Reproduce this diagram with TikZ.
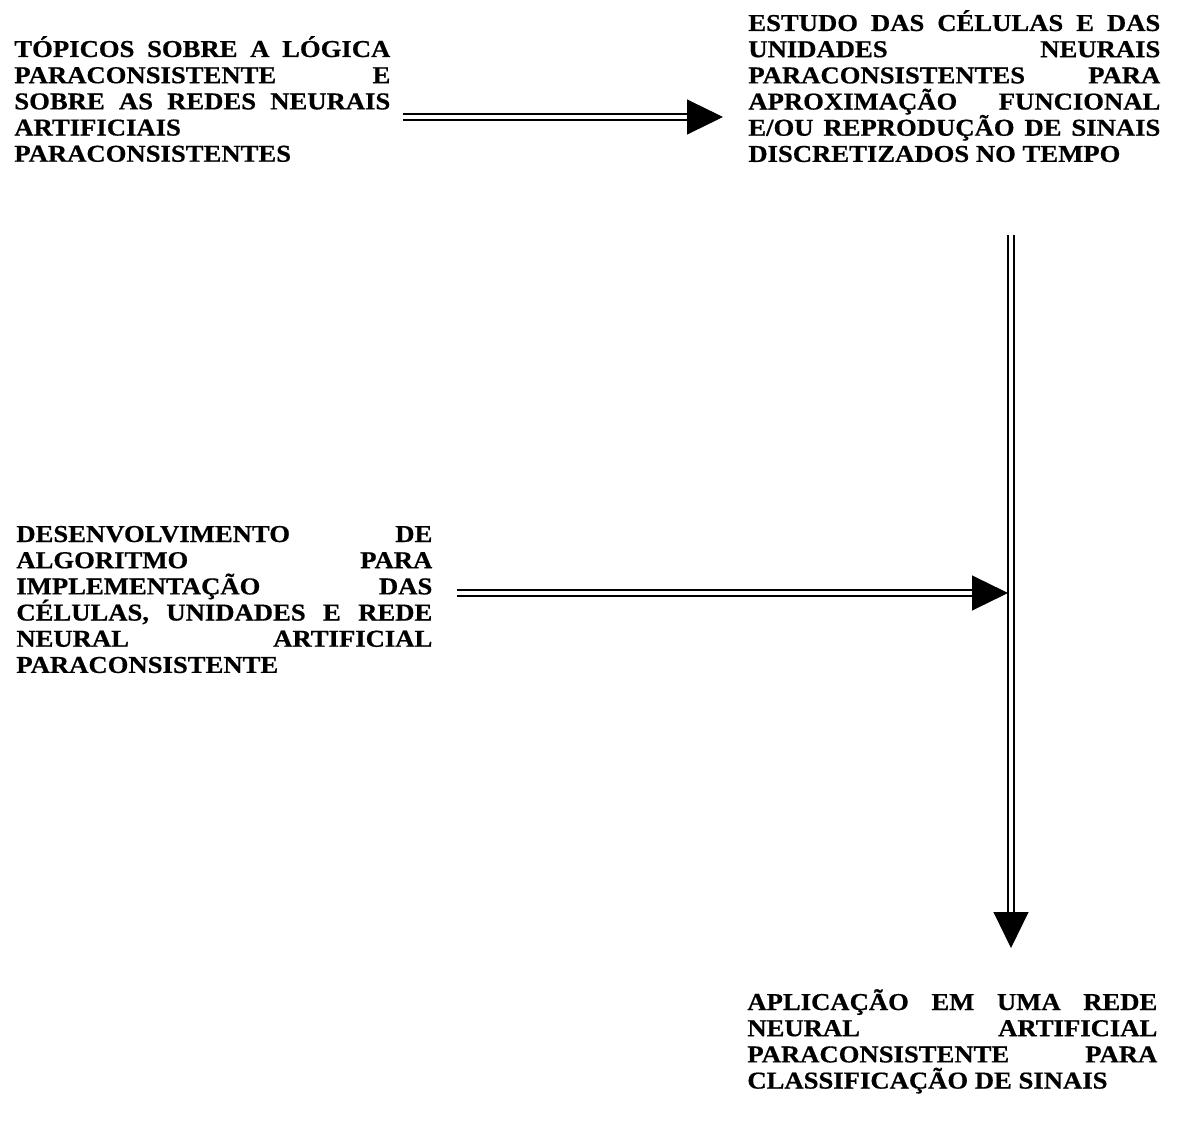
\documentclass[tikz,border=0pt]{standalone}
\usepackage{fontspec}
\usetikzlibrary{arrows.meta}
\newfontfamily\scanfont[FakeStretch=1.1,BoldFeatures={FakeBold=0.6}]{Liberation Serif}
\hyphenpenalty=10000
\exhyphenpenalty=10000
\tolerance=10000

\tikzset{
  topic/.style={anchor=base west,inner sep=0pt,text width=#1,align=justify,
    font=\scanfont\bfseries\fontsize{13.8}{14.9}\selectfont},
  flow/.style={double,double distance=2pt,line width=1pt,shorten >=7mm},
  head/.style={-{Triangle[length=7.2mm,width=7mm]},line width=0.6pt}
}

\begin{document}
\begin{tikzpicture}[x=0.2mm,y=-0.2mm]
\useasboundingbox (0,0) rectangle (1202,1139);

\node[topic=75.2mm] (topicos) at (14,57) {T\'OPICOS SOBRE A L\'OGICA\linebreak
  PARACONSISTENTE E\linebreak SOBRE AS REDES NEURAIS\linebreak
  ARTIFICIAIS\linebreak PARACONSISTENTES};
\node[topic=82.4mm] (estudo) at (748,31) {ESTUDO DAS C\'ELULAS E DAS\linebreak
  UNIDADES NEURAIS\linebreak PARACONSISTENTES PARA\linebreak
  APROXIMA\c{C}\~AO FUNCIONAL\linebreak E/OU REPRODU\c{C}\~AO DE SINAIS\linebreak
  DISCRETIZADOS NO TEMPO};
\node[topic=83.2mm] (algoritmo) at (16,542) {DESENVOLVIMENTO DE\linebreak
  ALGORITMO PARA\linebreak IMPLEMENTA\c{C}\~AO DAS\linebreak
  C\'ELULAS, UNIDADES E REDE\linebreak NEURAL ARTIFICIAL\linebreak
  PARACONSISTENTE};
\node[topic=82mm] (aplicacao) at (747,1010) {APLICA\c{C}\~AO EM UMA REDE\linebreak
  NEURAL ARTIFICIAL\linebreak PARACONSISTENTE PARA\linebreak
  CLASSIFICA\c{C}\~AO DE SINAIS};

\coordinate (s1) at (403,117);
\coordinate (t1) at (723,117);
\coordinate (s2) at (1011,235);
\coordinate (t2) at (1011,948);
\coordinate (s3) at (457,593);
\coordinate (t3) at (1008,593);

\draw[flow] (s1) -- (t1);
\draw[head] ([xshift=-7.2mm]t1) -- (t1);
\draw[flow] (s2) -- (t2);
\draw[head] ([yshift=7.2mm]t2) -- (t2);
\draw[flow] (s3) -- (t3);
\draw[head] ([xshift=-7.2mm]t3) -- (t3);
\end{tikzpicture}
\end{document}
